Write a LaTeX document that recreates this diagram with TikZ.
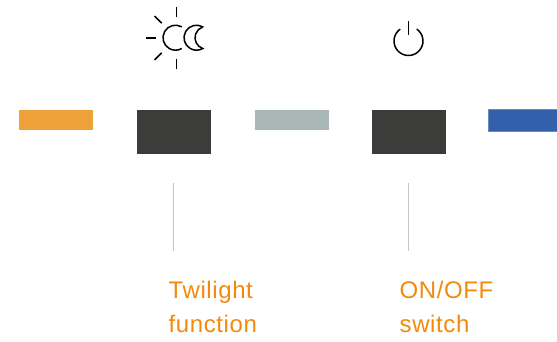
\documentclass[tikz,border=0pt]{standalone}
\usepackage{fontspec}
\setmainfont{Liberation Sans}
\newfontfamily\lblfont{Liberation Sans}[LetterSpace=2.5]
\definecolor{barorange}{HTML}{F0A23A}
\definecolor{bardark}{HTML}{3C3C3A}
\definecolor{bargray}{HTML}{A9B7B7}
\definecolor{barblue}{HTML}{3360AA}
\definecolor{barblueedge}{HTML}{6A8CC6}
\definecolor{lblorange}{HTML}{F28A0C}
\definecolor{leadgray}{HTML}{C6C6C6}
\begin{document}
\begin{tikzpicture}[x=1pt,y=1pt,
  bar/.style={rectangle, inner sep=0pt, outer sep=0pt, draw=none, minimum width=74pt},
  thinbar/.style={bar, minimum height=20pt},
  tallbar/.style={bar, minimum height=44pt},
  leader/.style={draw=leadgray, line width=1.1pt},
  icon/.style={draw=black, line width=1.5pt},
  lbl/.style={anchor=base west, inner sep=0pt, text=lblorange, font=\lblfont\fontsize{24}{34}\selectfont}
]
\useasboundingbox (0,0) rectangle (557,342);
% bars
\node[thinbar, fill=barorange] (orange) at (56,222) {};
\node[tallbar, fill=bardark] (dark1) at (173.5,210) {};
\node[thinbar, fill=bargray] (gray) at (291.5,222) {};
\node[tallbar, fill=bardark] (dark2) at (408.5,210) {};
\node[bar, minimum height=22pt, fill=barblue, draw=barblueedge, line width=1pt] (blue) at (525,221.6) {};
% leader lines
\coordinate (l1top) at (173.5,159);
\coordinate (l1bot) at (173.5,91);
\coordinate (l2top) at (408.5,159);
\coordinate (l2bot) at (408.5,91);
\draw[leader] (l1top) -- (l1bot);
\draw[leader] (l2top) -- (l2bot);
% labels
\node[lbl] (tw1) at (168.5,43) {Twilight};
\node[lbl] (tw2) at (168.5,9) {function};
\node[lbl] (on1) at (399.5,43) {ON/OFF};
\node[lbl] (on2) at (399.5,9) {switch};
% sun / moon icon
\coordinate (sun) at (176.5,304);
\foreach \a in {90,135,180,225,270}
  \draw[icon] ([shift={(\a:21pt)}]sun) -- ([shift={(\a:31pt)}]sun);
\draw[icon] ([shift={(60:12.5pt)}]175.5,304.3) arc[start angle=60, end angle=300, radius=12.5pt];
\draw[icon, line join=miter] ([shift={(60:12.5pt)}]196.5,304.3) arc[start angle=60, end angle=300, radius=12.5pt]
  arc[start angle=251.3, end angle=108.7, radius=11.4pt] -- cycle;
% power icon
\coordinate (pwr) at (408.5,301);
\draw[icon] ([shift={(125:14.5pt)}]pwr) arc[start angle=125, end angle=415, radius=14.5pt];
\draw[icon] (408.5,320.7) -- (408.5,306.7);
\end{tikzpicture}
\end{document}
